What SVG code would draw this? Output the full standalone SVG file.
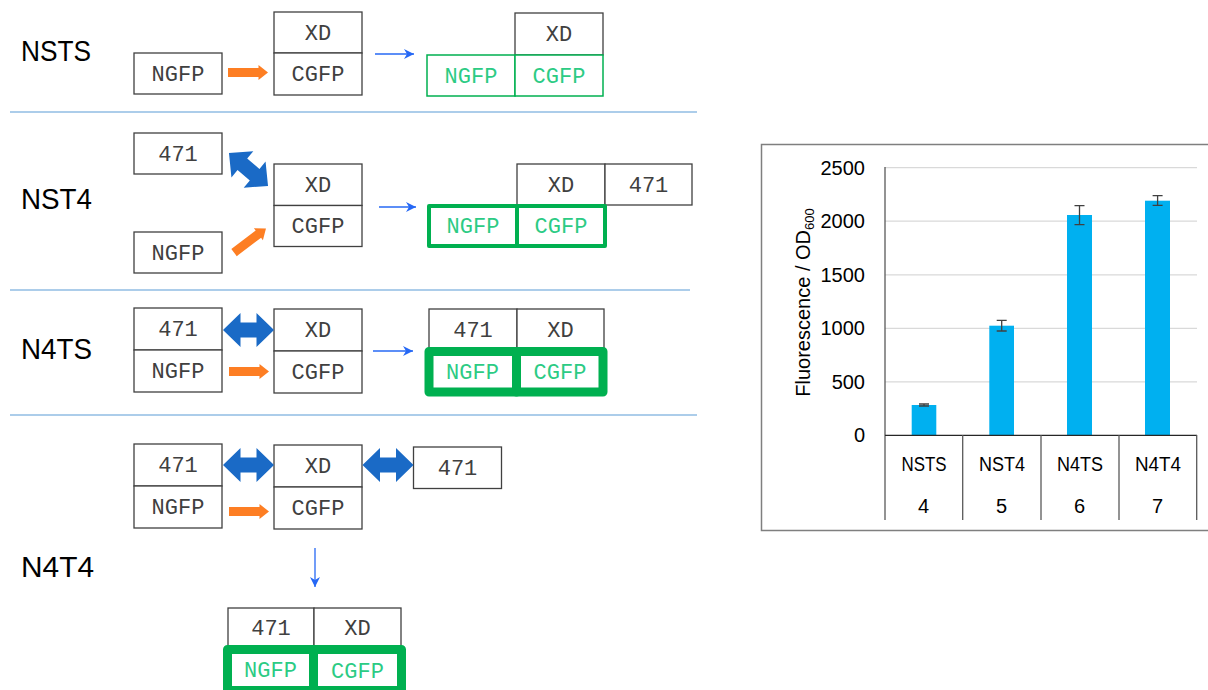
<svg xmlns="http://www.w3.org/2000/svg" width="1208" height="690" viewBox="0 0 1208 690">
<defs>
<style>
.box{fill:#fff;stroke:#404040;stroke-width:1.3}
.t{font-family:"Liberation Mono","DejaVu Sans Mono",monospace;font-size:22px;fill:#404040;text-anchor:middle}
.gt{font-family:"Liberation Mono","DejaVu Sans Mono",monospace;font-size:22px;fill:#2ccb84;text-anchor:middle}
.gthin{fill:#fff;stroke:#00b050;stroke-width:1.5}
.gmid{fill:#fff;stroke:#00b050;stroke-width:4;stroke-linejoin:round}
.gthick{fill:#fff;stroke:#00b050;stroke-width:9;stroke-linejoin:round}
.lbl{font-family:"Liberation Sans",Arial,sans-serif;font-size:30px;fill:#000}
.sep{stroke:#5b9bd5;stroke-width:1.2}
.orange{fill:#fd7e23}
.dbl{fill:#1a6ac6}
.thin{stroke:#2668f5;stroke-width:1.3;fill:none;marker-end:url(#ah)}
.ct{font-family:"Liberation Sans",Arial,sans-serif;font-size:20px;fill:#000}
.grid{stroke:#d9d9d9;stroke-width:1.2}
.ax{stroke:#595959;stroke-width:1.3}
.bar{fill:#00b0f0}
.err{stroke:#404040;stroke-width:1.3;fill:none}
</style>
<marker id="ah" viewBox="0 0 10 10" refX="10" refY="5" markerWidth="10" markerHeight="10" markerUnits="userSpaceOnUse" orient="auto">
<path d="M0,0 L10,5 L0,10 L3,5 Z" fill="#2668f5"/>
</marker>
<polygon id="oarr" points="-20,-4.5 10.5,-4.5 10.5,-7.5 20,0 10.5,7.5 10.5,4.5 -20,4.5"/>
<polygon id="darr" points="-25.5,0 -8,-17 -8,-7.5 8,-7.5 8,-17 25.5,0 8,17 8,7.5 -8,7.5 -8,17"/>
</defs>

<rect width="1208" height="690" fill="#fff"/>

<!-- separators -->
<g id="separators">
<line class="sep" x1="10" y1="112" x2="697" y2="112"/>
<line class="sep" x1="10" y1="290" x2="690" y2="290"/>
<line class="sep" x1="10" y1="415" x2="697" y2="415"/>
</g>

<!-- row labels -->
<g id="labels">
<text class="lbl" x="21" y="61" textLength="70" lengthAdjust="spacingAndGlyphs">NSTS</text>
<text class="lbl" x="21" y="209" textLength="71" lengthAdjust="spacingAndGlyphs">NST4</text>
<text class="lbl" x="21" y="359" textLength="71" lengthAdjust="spacingAndGlyphs">N4TS</text>
<text class="lbl" x="21" y="577" textLength="73" lengthAdjust="spacingAndGlyphs">N4T4</text>
</g>

<!-- Row 1 NSTS -->
<g id="r1-ngfp"><rect class="box" x="134" y="53" width="88" height="41"/><text class="t" x="178" y="81">NGFP</text></g>
<g id="r1-xd"><rect class="box" x="274" y="12" width="88" height="41"/><text class="t" x="318" y="40">XD</text></g>
<g id="r1-cgfp"><rect class="box" x="274" y="53" width="88" height="42"/><text class="t" x="318" y="81">CGFP</text></g>
<g id="r1-res-xd"><rect class="box" x="515" y="13" width="88" height="42"/><text class="t" x="559" y="41">XD</text></g>
<g id="r1-res-ngfp"><rect class="gthin" x="427" y="55" width="88" height="41"/><text class="gt" x="471" y="83">NGFP</text></g>
<g id="r1-res-cgfp"><rect class="gthin" x="515" y="55" width="88" height="41"/><text class="gt" x="559" y="83">CGFP</text></g>

<!-- Row 2 NST4 -->
<g id="r2-471"><rect class="box" x="134" y="133" width="88" height="41"/><text class="t" x="178" y="161">471</text></g>
<g id="r2-ngfp"><rect class="box" x="134" y="232" width="88" height="41"/><text class="t" x="178" y="260">NGFP</text></g>
<g id="r2-xd"><rect class="box" x="274" y="164" width="88" height="41.5"/><text class="t" x="318" y="192">XD</text></g>
<g id="r2-cgfp"><rect class="box" x="274" y="205.5" width="88" height="41"/><text class="t" x="318" y="233">CGFP</text></g>
<g id="r2-res-xd"><rect class="box" x="517" y="164" width="88" height="41"/><text class="t" x="561" y="192">XD</text></g>
<g id="r2-res-471"><rect class="box" x="605" y="164" width="87" height="41"/><text class="t" x="648.5" y="192">471</text></g>
<g id="r2-res-ngfp"><rect class="gmid" x="429" y="206" width="88" height="40"/><text class="gt" x="473" y="233">NGFP</text></g>
<g id="r2-res-cgfp"><rect class="gmid" x="517" y="206" width="88" height="40"/><text class="gt" x="561" y="233">CGFP</text></g>

<!-- Row 3 N4TS -->
<g id="r3-471"><rect class="box" x="134" y="308" width="88" height="42"/><text class="t" x="178" y="336">471</text></g>
<g id="r3-ngfp"><rect class="box" x="134" y="350" width="88" height="42"/><text class="t" x="178" y="378">NGFP</text></g>
<g id="r3-xd"><rect class="box" x="274" y="309" width="88" height="42"/><text class="t" x="318" y="337">XD</text></g>
<g id="r3-cgfp"><rect class="box" x="274" y="351" width="88" height="42"/><text class="t" x="318" y="379">CGFP</text></g>
<g id="r3-res-471"><rect class="box" x="429" y="309" width="88" height="41"/><text class="t" x="473" y="337">471</text></g>
<g id="r3-res-xd"><rect class="box" x="517" y="309" width="87" height="41"/><text class="t" x="560.5" y="337">XD</text></g>
<g id="r3-res-ngfp"><rect class="gthick" x="429" y="351.5" width="87.5" height="40.5"/><text class="gt" x="472.5" y="379">NGFP</text></g>
<g id="r3-res-cgfp"><rect class="gthick" x="516.5" y="351.5" width="86.5" height="40.5"/><text class="gt" x="560" y="379">CGFP</text></g>

<!-- Row 4 N4T4 -->
<g id="r4-471"><rect class="box" x="134" y="444" width="88" height="42"/><text class="t" x="178" y="472">471</text></g>
<g id="r4-ngfp"><rect class="box" x="134" y="486" width="88" height="42"/><text class="t" x="178" y="514">NGFP</text></g>
<g id="r4-xd"><rect class="box" x="274" y="445" width="88" height="42"/><text class="t" x="318" y="473">XD</text></g>
<g id="r4-cgfp"><rect class="box" x="274" y="487" width="88" height="42"/><text class="t" x="318" y="515">CGFP</text></g>
<g id="r4-471b"><rect class="box" x="413.5" y="447" width="88" height="41.5"/><text class="t" x="457.5" y="475">471</text></g>
<g id="r4-res-471"><rect class="box" x="228" y="608" width="86" height="38"/><text class="t" x="271" y="635">471</text></g>
<g id="r4-res-xd"><rect class="box" x="314" y="608" width="87" height="38"/><text class="t" x="357.5" y="635">XD</text></g>
<g id="r4-res-ngfp"><rect class="gthick" x="227.5" y="649.5" width="86" height="41"/><text class="gt" x="270.5" y="677">NGFP</text></g>
<g id="r4-res-cgfp"><rect class="gthick" x="313.5" y="649.5" width="88" height="41"/><text class="gt" x="357.5" y="678">CGFP</text></g>

<!-- connectors -->
<g id="connectors">
<use href="#oarr" class="orange" transform="translate(248,72.5)"/>
<use href="#oarr" class="orange" transform="translate(250,240.5) rotate(-37)"/>
<use href="#oarr" class="orange" transform="translate(249,371.5)"/>
<use href="#oarr" class="orange" transform="translate(249,511.5)"/>
<use href="#darr" class="dbl" transform="translate(248.5,169.5) rotate(40)"/>
<use href="#darr" class="dbl" transform="translate(248.5,330)"/>
<use href="#darr" class="dbl" transform="translate(248.5,465)"/>
<use href="#darr" class="dbl" transform="translate(388,465)"/>
<line class="thin" x1="375" y1="54" x2="414" y2="54"/>
<line class="thin" x1="379" y1="207" x2="416" y2="207"/>
<line class="thin" x1="373" y1="351" x2="413" y2="351"/>
<line class="thin" x1="315" y1="548" x2="315" y2="587"/>
</g>

<!-- chart -->
<g id="chart">
<rect x="761.5" y="144.5" width="460" height="386" fill="#fff" stroke="#7f7f7f" stroke-width="1.5"/>
<g id="gridlines">
<line class="grid" x1="885" y1="167.7" x2="1197" y2="167.7"/>
<line class="grid" x1="885" y1="221.2" x2="1197" y2="221.2"/>
<line class="grid" x1="885" y1="274.8" x2="1197" y2="274.8"/>
<line class="grid" x1="885" y1="328.3" x2="1197" y2="328.3"/>
<line class="grid" x1="885" y1="381.8" x2="1197" y2="381.8"/>
</g>
<g id="ylabels" class="ct" text-anchor="end">
<text x="865" y="174.5">2500</text>
<text x="865" y="228">2000</text>
<text x="865" y="281.5">1500</text>
<text x="865" y="335">1000</text>
<text x="865" y="388.5">500</text>
<text x="865" y="442">0</text>
</g>
<text class="ct" transform="translate(810,302.5) rotate(-90)" text-anchor="middle">Fluorescence / OD<tspan font-size="13" dy="4">600</tspan></text>
<g id="bars">
<rect class="bar" x="911.7" y="405" width="24.6" height="30.3"/>
<rect class="bar" x="989.3" y="325.7" width="24.7" height="109.6"/>
<rect class="bar" x="1067" y="215" width="25" height="220.3"/>
<rect class="bar" x="1145" y="200.7" width="25" height="234.6"/>
</g>
<g id="errorbars">
<path class="err" d="M919,404 h10 M924,404 v2 M919,406 h10"/>
<path class="err" d="M996.7,320.3 h10 M1001.7,320.3 V331 M996.7,331 h10"/>
<path class="err" d="M1074.5,205.7 h10 M1079.5,205.7 V224.7 M1074.5,224.7 h10"/>
<path class="err" d="M1152.6,195.7 h10 M1157.6,195.7 V205.3 M1152.6,205.3 h10"/>
</g>
<g id="axes">
<line class="ax" x1="885" y1="167" x2="885" y2="520"/>
<line x1="885" y1="435.3" x2="1197" y2="435.3" stroke="#262626" stroke-width="1.3"/>
<line class="ax" x1="962.7" y1="435" x2="962.7" y2="520"/>
<line class="ax" x1="1041" y1="435" x2="1041" y2="520"/>
<line class="ax" x1="1119" y1="435" x2="1119" y2="520"/>
<line class="ax" x1="1196.7" y1="435" x2="1196.7" y2="520"/>
</g>
<g id="xlabels" class="ct" text-anchor="middle">
<text x="924" y="471" textLength="45" lengthAdjust="spacingAndGlyphs">NSTS</text>
<text x="1002" y="471" textLength="46" lengthAdjust="spacingAndGlyphs">NST4</text>
<text x="1080" y="471" textLength="46" lengthAdjust="spacingAndGlyphs">N4TS</text>
<text x="1158" y="471" textLength="46" lengthAdjust="spacingAndGlyphs">N4T4</text>
<text x="923.5" y="513">4</text>
<text x="1001.5" y="513">5</text>
<text x="1079.5" y="513">6</text>
<text x="1157.5" y="513">7</text>
</g>
</g>
</svg>
